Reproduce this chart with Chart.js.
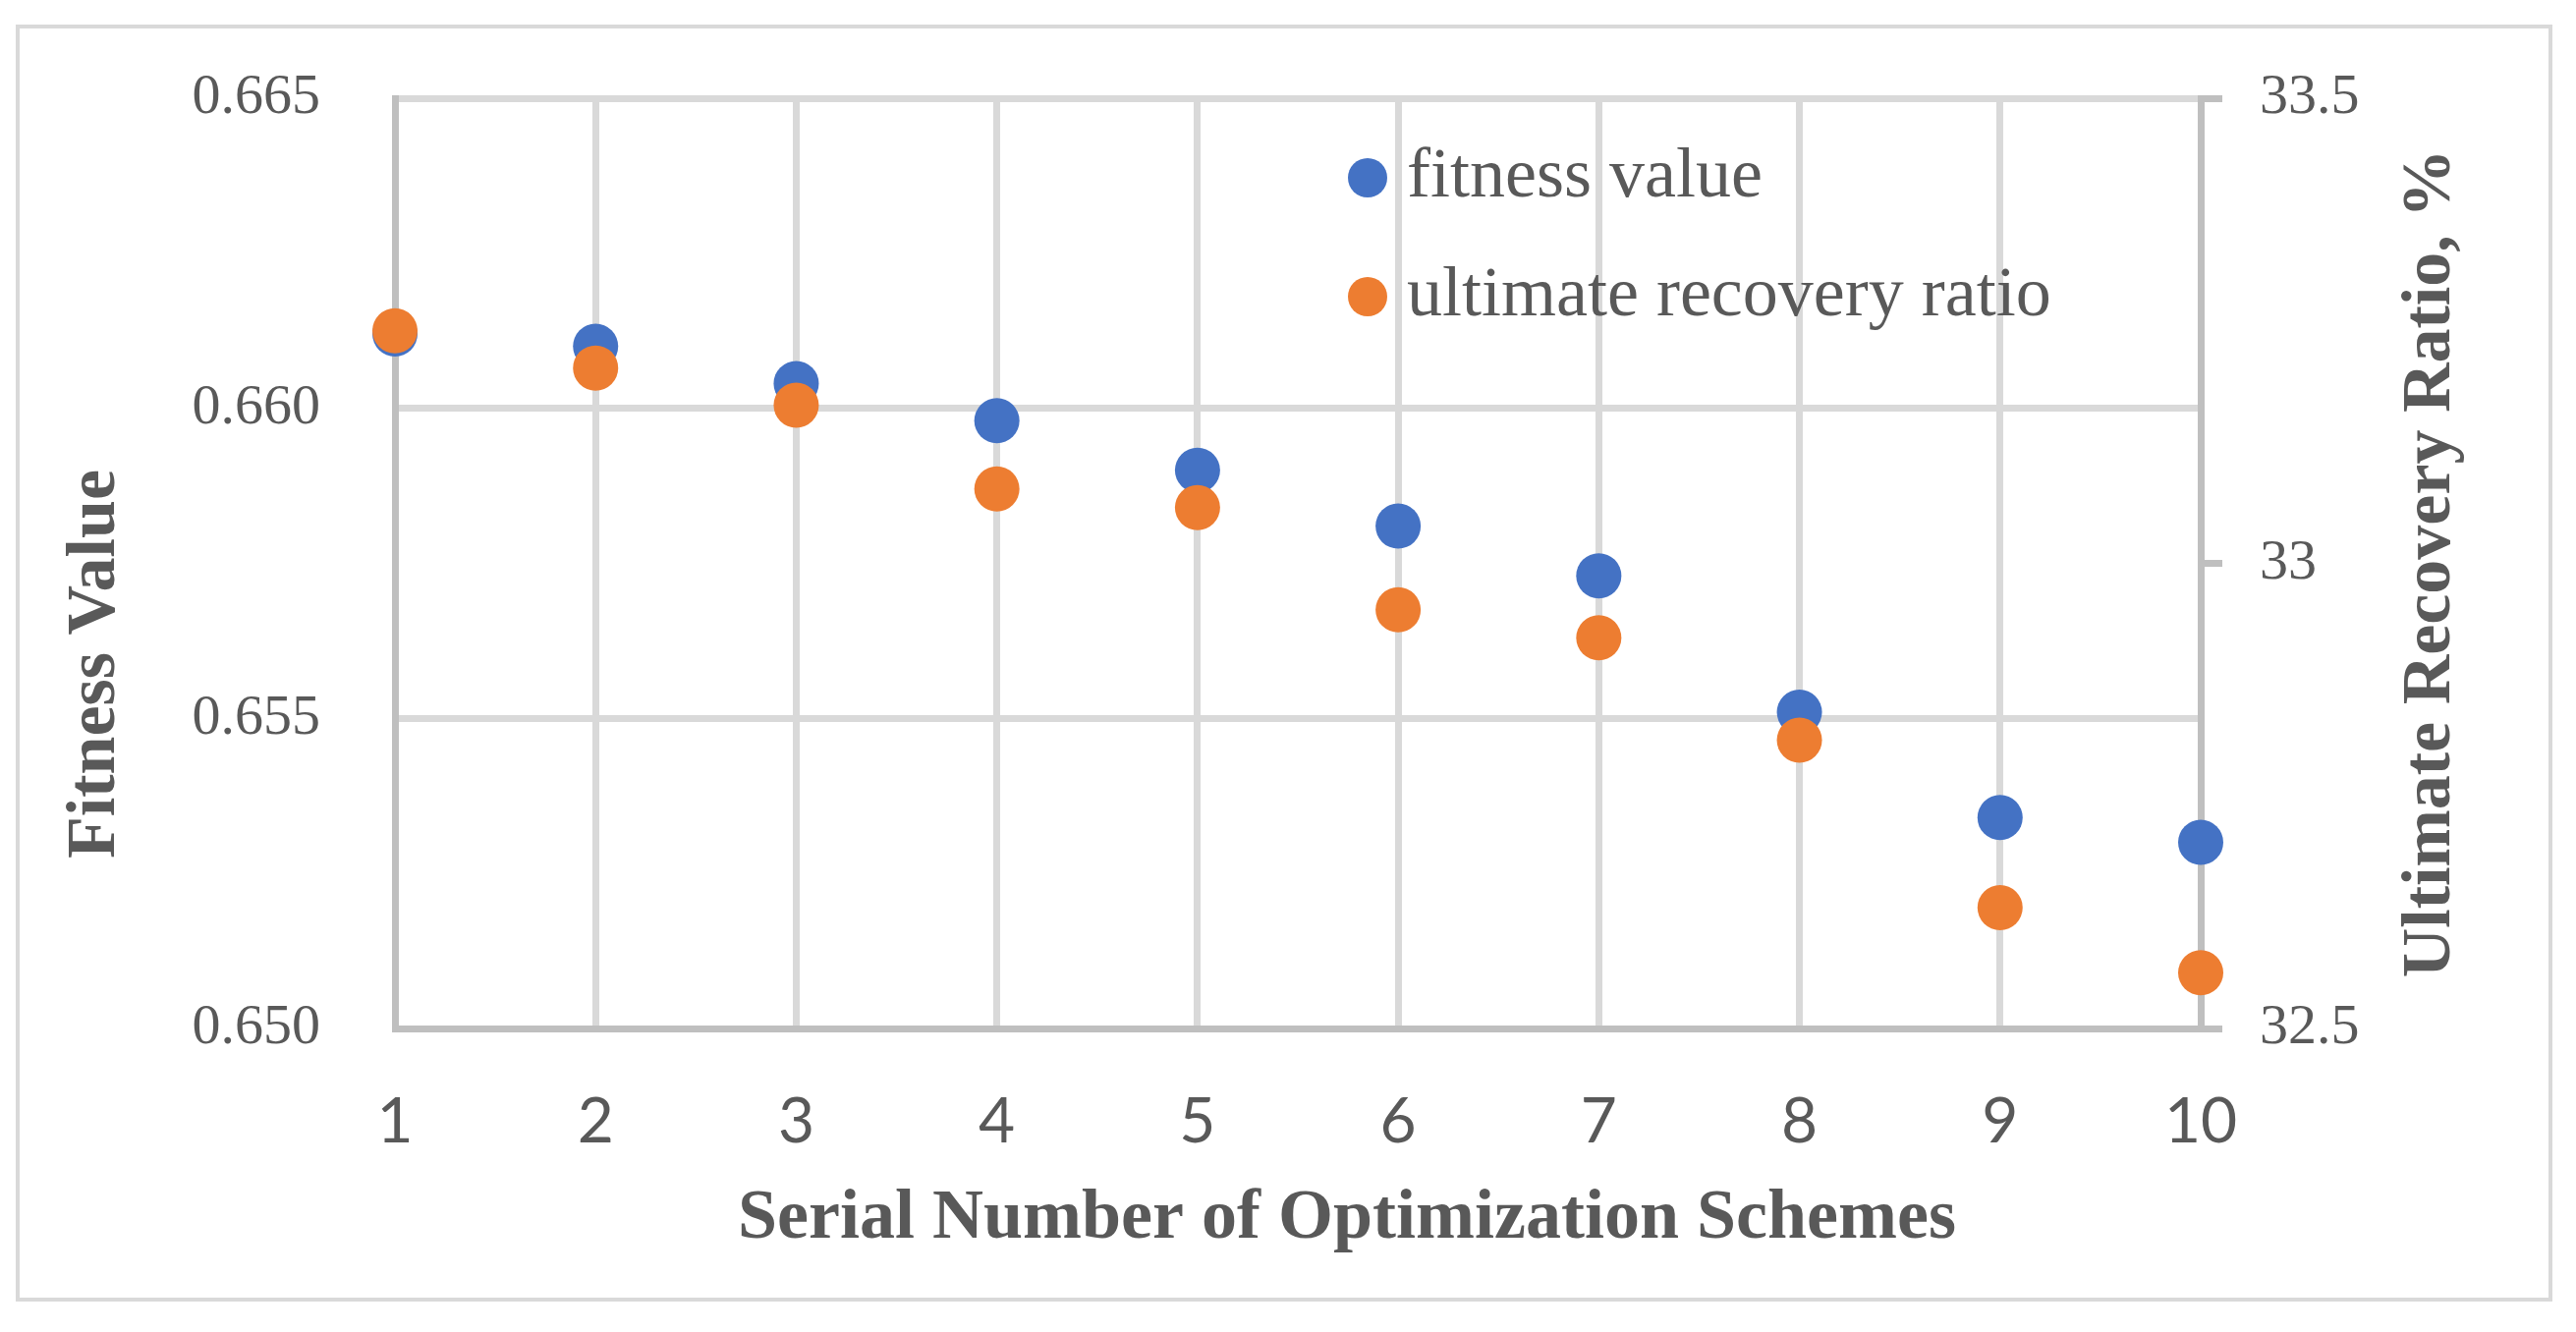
<!DOCTYPE html>
<html>
<head>
<meta charset="utf-8">
<script src="https://cdn.jsdelivr.net/npm/chart.js@4.4.1/dist/chart.umd.min.js"></script>
<style>
  html, body { margin: 0; padding: 0; background: #ffffff; }
  #wrap { width: 2622px; height: 1356px; position: relative; }
</style>
</head>
<body>
<div id="wrap"><canvas id="scheme-chart"></canvas></div>
<script>
// data
const schemes = [1, 2, 3, 4, 5, 6, 7, 8, 9, 10];
const fitness = [0.6612, 0.6610, 0.6604, 0.6598, 0.6590, 0.6581, 0.6573, 0.6551, 0.6534, 0.6530];
const recovery = [33.25, 33.21, 33.17, 33.08, 33.06, 32.95, 32.92, 32.81, 32.63, 32.56];
const fitnessTicks = [0.650, 0.655, 0.660, 0.665];
const recoveryTicks = [32.5, 33, 33.5];

const xTitle = "Serial Number of Optimization Schemes";
const yTitle = "Fitness Value";
const y2Title = "Ultimate Recovery Ratio, %";

const textColor = "#595959";
const serif = "'Liberation Serif', 'Times New Roman', serif";

// frame, axis titles and the legend inside the plot
const decor = {
    id: "decor",
    beforeDraw(chart) {
        const c = chart.ctx;
        c.save();
        c.fillStyle = "#ffffff";
        c.fillRect(0, 0, chart.width, chart.height);
        c.strokeStyle = "#d9d9d9";
        c.lineWidth = 4;
        c.strokeRect(18, 27, 2578, 1296);
        c.restore();
    },
    afterDraw(chart) {
        const c = chart.ctx;
        const area = chart.chartArea;
        c.save();
        c.fillStyle = textColor;
        c.textAlign = "center";
        c.textBaseline = "middle";

        c.font = "bold 72px " + serif;
        c.fillText(xTitle, 1371, 1241);

        c.font = "bold 70px " + serif;
        c.save();
        c.translate(98, 676);
        c.rotate(-Math.PI / 2);
        c.fillText(yTitle, 0, 0);
        c.restore();

        c.save();
        c.translate(2475, (area.top + area.bottom) / 2);
        c.rotate(-Math.PI / 2);
        c.fillText(y2Title, 0, 0);
        c.restore();

        // legend
        c.font = "72px " + serif;
        c.textAlign = "left";
        chart.data.datasets.forEach((ds, i) => {
            const y = 181 + i * 121;
            c.beginPath();
            c.fillStyle = ds.backgroundColor;
            c.arc(1392, y, 20, 0, Math.PI * 2);
            c.fill();
            c.fillStyle = textColor;
            c.fillText(ds.label, 1432, y);
        });
        c.restore();
    },
};

// keep the tick padding from pushing the plot area down
function noEdgePadding(scale, width) {
    scale.width = width;
    scale.paddingTop = 0;
    scale.paddingBottom = 0;
}

const ctx = document.querySelector("#scheme-chart");
new Chart(ctx, {
    type: "scatter",
    data: {
        datasets: [
            {
                label: "fitness value",
                data: schemes.map((s, i) => ({ x: s, y: fitness[i] })),
                backgroundColor: "#4472c4",
                borderWidth: 0,
                pointRadius: 23,
                pointHoverRadius: 23,
                yAxisID: "y",
                order: 2,
                clip: false,
            },
            {
                label: "ultimate recovery ratio",
                data: schemes.map((s, i) => ({ x: s, y: recovery[i] })),
                backgroundColor: "#ed7d31",
                borderWidth: 0,
                pointRadius: 23,
                pointHoverRadius: 23,
                yAxisID: "y2",
                order: 1,
                clip: false,
            },
        ],
    },
    options: {
        responsive: true,
        maintainAspectRatio: false,
        animation: false,
        layout: { padding: { top: 100, left: 0, right: 0, bottom: 0 } },
        plugins: {
            legend: { display: false },
            tooltip: { enabled: false },
        },
        scales: {
            x: {
                type: "linear",
                min: 1,
                max: 10,
                afterBuildTicks: (scale) => {
                    scale.ticks = schemes.map((v) => ({ value: v }));
                },
                afterFit: (scale) => {
                    scale.height = 309;
                },
                ticks: {
                    color: textColor,
                    font: { family: "Lato", size: 64 },
                    padding: 57,
                    callback: (v) => String(v),
                },
                grid: { color: "#d9d9d9", lineWidth: 7, drawTicks: false },
                border: { color: "#bfbfbf", width: 7 },
            },
            y: {
                position: "left",
                min: 0.65,
                max: 0.665,
                afterBuildTicks: (scale) => {
                    scale.ticks = fitnessTicks.map((v) => ({ value: v }));
                },
                afterFit: (scale) => noEdgePadding(scale, 402),
                ticks: {
                    color: textColor,
                    font: { family: serif, size: 58 },
                    padding: 76,
                    callback: (v) => v.toFixed(3),
                },
                grid: { color: "#d9d9d9", lineWidth: 7, drawTicks: false },
                border: { color: "#bfbfbf", width: 7 },
            },
            y2: {
                position: "right",
                min: 32.5,
                max: 33.5,
                afterBuildTicks: (scale) => {
                    scale.ticks = recoveryTicks.map((v) => ({ value: v }));
                },
                afterFit: (scale) => noEdgePadding(scale, 382),
                ticks: {
                    color: textColor,
                    font: { family: serif, size: 58 },
                    padding: 38,
                    callback: (v) => String(v),
                },
                grid: {
                    drawOnChartArea: false,
                    drawTicks: true,
                    tickLength: 22,
                    tickColor: "#bfbfbf",
                    tickWidth: 7,
                    color: "#bfbfbf",
                    lineWidth: 7,
                },
                border: { color: "#bfbfbf", width: 7 },
            },
        },
    },
    plugins: [decor],
});
</script>
</body>
</html>
